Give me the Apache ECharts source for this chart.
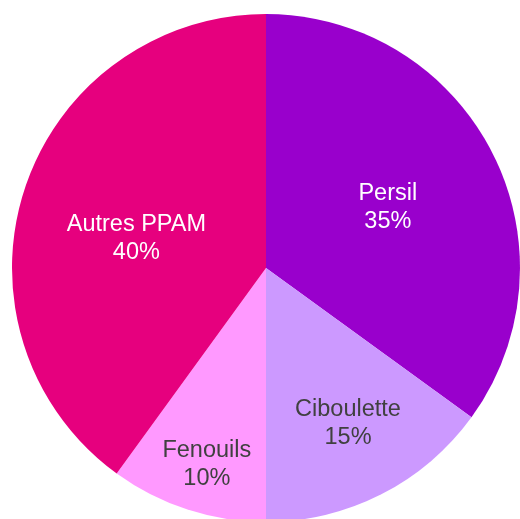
<!DOCTYPE html>
<html>
<head>
	<meta charset="UTF-8">
	<title></title>
	<style>
		html, body { margin: 0; padding: 0; background: #fff; }
	</style>
</head>
<body>
	<div id="main" style="width: 520px;height: 519px"></div>
	<script src="https://cdn.jsdelivr.net/npm/echarts@6/dist/echarts.min.js"></script>
	<script>
		var categories = ['Persil', 'Ciboulette', 'Fenouils', 'Autres PPAM'];
		var values = [35, 15, 10, 40];
		var colors = ['#9900CC', '#CC99FF', '#FF99FF', '#E6007E'];
		var labelColors = ['#fff', '#404040', '#404040', '#fff'];
		// nudges so labels sit where the original puts them
		var labelShift = [[6, -1], [23, 40], [-19, 73], [-6, 11]];

		var app = echarts.init(document.getElementById('main'));
		var pieData = categories.map(function(name, i) {
			return {
				name: name,
				value: values[i],
				itemStyle: { color: colors[i] },
				label: { color: labelColors[i] }
			};
		});

		var option = {
			backgroundColor: '#fff',
			animation: false,
			series: [{
				type: 'pie',
				center: [266, 268],
				radius: [0, 254],
				startAngle: 90,
				clockwise: true,
				data: pieData,
				itemStyle: {
					borderWidth: 0
				},
				label: {
					show: true,
					position: 'inside',
					fontFamily: 'Liberation Sans, Arial, sans-serif',
					fontSize: 23.5,
					lineHeight: 28,
					formatter: function(p) {
						return p.name + '\n' + p.value + '%';
					}
				},
				labelLine: { show: false },
				labelLayout: function(p) {
					var s = labelShift[p.dataIndex];
					return { dx: s[0], dy: s[1] };
				}
			}]
		};
		app.setOption(option);
	</script>
</body>
</html>
